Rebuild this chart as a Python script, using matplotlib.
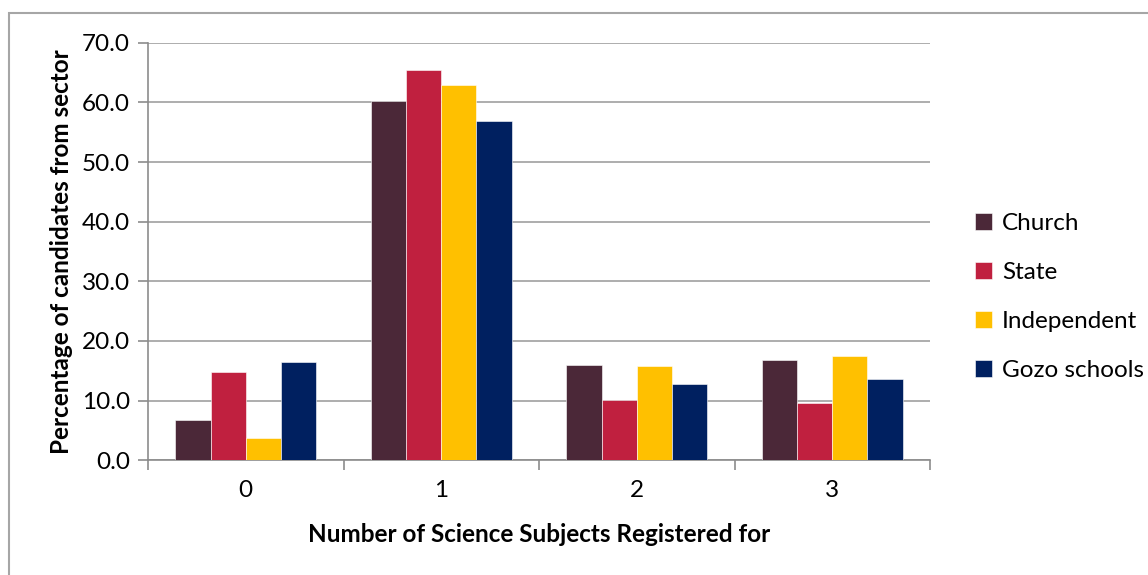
import numpy as np
import matplotlib.pyplot as plt
from matplotlib.patches import Rectangle

plt.rcParams['font.family'] = ['Lato', 'DejaVu Sans']

# data
categories = ['0', '1', '2', '3']
sectors = ['Church', 'State', 'Independent', 'Gozo schools']
church = [6.8, 60.3, 15.9, 16.8]
state = [14.8, 65.4, 10.1, 9.6]
independent = [3.7, 62.9, 15.8, 17.4]
gozo = [16.5, 56.9, 12.8, 13.6]
colors = ['#4B2838', '#C0203F', '#FFC000', '#002060']

FS = 17.5
W, H = 1148, 575
fig = plt.figure(figsize=(W / 100, H / 100), dpi=100)
# axes in pixel terms: left 148, right 930, top 43, bottom 460
ax = fig.add_axes([148 / W, 1 - 460.3 / H, (930 - 148) / W, (460.3 - 42.7) / H])

x = np.arange(len(categories))
bw = 0.18
series = [church, state, independent, gozo]
for i, (vals, name, c) in enumerate(zip(series, sectors, colors)):
    ax.bar(x + (i - 1.5) * bw, vals, bw, color=c, label=name,
           edgecolor='white', linewidth=0.4, zorder=3)

ax.set_xlim(-0.5, 3.5)
ax.set_ylim(0, 70)
ax.set_yticks(np.arange(0, 71, 10))
ax.set_yticklabels([f'{v:.1f}' for v in np.arange(0, 71, 10)], fontsize=FS)
ax.set_xticks(x)
ax.set_xticklabels(categories, fontsize=FS)
ax.set_xticks(np.arange(-0.5, 3.6, 1), minor=True)
ax.tick_params(axis='x', which='major', length=0, pad=14)
ax.tick_params(axis='x', which='minor', length=7, color='#8C8C8C', width=1.2)
ax.tick_params(axis='y', length=7, color='#8C8C8C', width=1.2, pad=6)
ax.yaxis.grid(True, color='#A0A0A0', linewidth=1.2, zorder=0)
ax.set_axisbelow(True)
for s in ['top', 'right']:
    ax.spines[s].set_visible(False)
for s in ['left', 'bottom']:
    ax.spines[s].set_color('#8C8C8C')
    ax.spines[s].set_linewidth(1.2)

ax.set_xlabel('Number of Science Subjects Registered for', fontsize=FS,
              fontweight='bold', labelpad=16)
ax.set_ylabel('Percentage of candidates from sector', fontsize=FS,
              fontweight='bold', labelpad=6)

ax.legend(loc='center left', bbox_to_anchor=(1.03, 0.39), frameon=False,
          fontsize=FS, handlelength=0.7, handleheight=0.7, handletextpad=0.4,
          labelspacing=1.15)

# outer chart border (only partly visible in the reference)
fig.patches.append(Rectangle((9 / W, -0.1), 1.2, 1.1 - 13 / H,
                             transform=fig.transFigure, fill=False,
                             edgecolor='#A6A6A6', linewidth=1.5))

fig.savefig('out.png', dpi=100, facecolor='white')
